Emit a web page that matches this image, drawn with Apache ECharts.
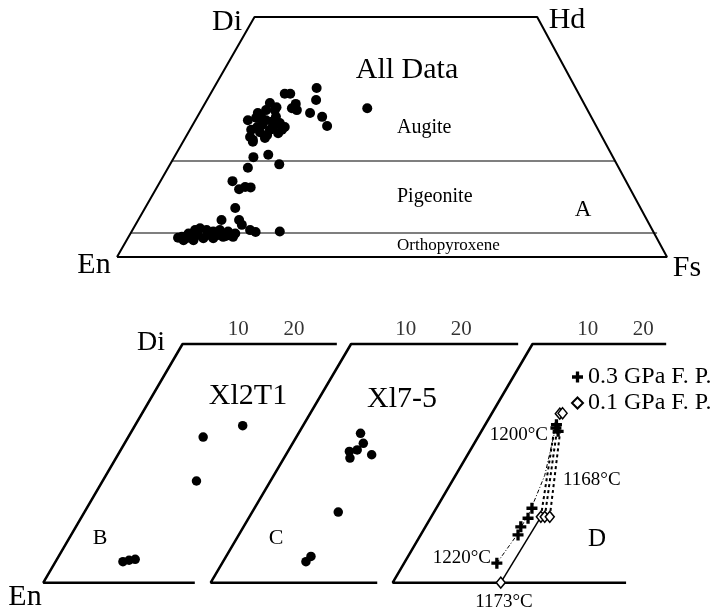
<!DOCTYPE html>
<html>
<head>
<meta charset="utf-8">
<script src="https://cdn.jsdelivr.net/npm/echarts@6/dist/echarts.min.js"></script>
<style>html,body{margin:0;padding:0;background:#fff}#c{width:718px;height:612px}</style>
</head>
<body>
<div id="c"></div>
<script>
// Coordinates: [x along En–Fs base (0–100 scale), Wo (0–50)]
const topFrame = [[0,0],[25,50],[76.4,50],[100,0],[0,0]];
const augiteBoundary = [[10,20],[90.6,20]];
const opxBoundary = [[2.5,5],[98.2,5]];
const allData = [
  [30.5,34.0],[31.5,34.0],[32.5,31.9],[31.8,31.0],[32.7,30.6],[27.8,32.1],[28.7,30.6],[27.1,30.6],
  [25.6,30.0],[23.8,28.5],[25.3,29.0],[27.1,28.5],[28.9,29.2],[29.6,27.9],[30.0,26.5],[28.4,27.1],
  [25.5,27.1],[26.0,26.0],[24.2,25.0],[24.7,24.4],[27.3,25.4],[24.4,26.5],[26.4,27.5],[27.8,26.5],
  [29.3,25.8],[26.9,24.8],[30.5,27.1],[24.7,24.0],[26.2,29.2],[28.2,28.2],[29.0,31.2],
  [36.3,35.2],[36.2,32.7],[35.1,30.0],[37.3,29.2],[38.2,27.3],[45.5,31.0],
  [24.8,20.8],[27.5,21.3],[23.8,18.6],[29.5,19.3],[21.0,15.8],[22.2,14.1],[23.3,14.6],[24.3,14.5],
  [21.5,10.2],[22.2,7.7],[19.0,7.7],[24.2,5.6],[25.2,5.2],[29.6,5.3],
  [11.8,4.2],[13.0,4.9],[14.2,5.6],[15.1,6.0],[16.3,5.6],[17.5,5.3],[18.7,5.6],[20.2,5.3],[21.5,4.9],
  [12.1,3.5],[13.9,3.5],[15.7,3.9],[17.5,3.9],[19.3,4.2],[21.1,4.2],[22.7,6.7],[12.9,4.0],[14.7,4.6],
  [16.5,4.6],[18.4,4.6],[19.8,4.4],[11.1,4.0]
];
const frameB = [[27.2,0],[0,0],[25,50],[52.7,50]];
const frameC = [[29.9,0],[0,0],[25.2,50],[55.2,50]];
const frameD = [[41.9,0],[0,0],[25.1,50],[49.1,50]];
const ptsB = [[35.8,32.9],[28.7,30.5],[27.5,21.3],[14.3,4.4],[16.5,4.9],[15.4,4.7]];
const ptsC = [[26.9,31.3],[27.4,29.2],[26.3,27.8],[24.9,27.5],[25.0,26.1],[28.9,26.8],[22.9,14.8],[18.0,5.5],[17.1,4.4]];
const fp03 = [[29.4,33.1],[29.3,32.4],[29.7,31.7],[25.0,15.6],[24.3,13.5],[23.0,11.7],[22.5,10.0],[18.7,4.1]];
const fp01 = [[30.0,35.4],[30.5,35.5],[26.6,13.8],[27.3,13.8],[28.2,13.8],[19.4,0]];
const path03 = [[18.7,4.1],[22.0,9.5],[24.6,14.8],[27.3,22.5],[29.1,31.7]];
const path01solid = [[19.4,0],[26.6,13.8]];
const ties01 = [
  [[26.6,13.8],[29.0,32.0]],
  [[27.3,13.8],[29.5,32.0]],
  [[28.2,13.8],[30.1,32.0]]
];
const tickValues = [10,20];
const tickLabels = ['10','20'];

const SERIF = '"Liberation Serif","Times New Roman",serif';
const chart = echarts.init(document.getElementById('c'), null, {renderer:'canvas'});

const pxX = 5.57;
const grids = [
  {left:117, top:17, width:550, height:240},
  {left:43.3, top:344, width:55*pxX, height:238.7},
  {left:210.7, top:344, width:55*pxX, height:238.7},
  {left:392.7, top:344, width:55*pxX, height:238.7}
];
const xAxes = grids.map((g,i)=>({type:'value', gridIndex:i, min:0, max: i===0?100:55, show:false}));
const yAxes = grids.map((g,i)=>({type:'value', gridIndex:i, min:0, max:50, show:false}));

function line(data, gi, width, type){
  return {type:'line', xAxisIndex:gi, yAxisIndex:gi, data:data, showSymbol:false, symbol:'none',
    lineStyle:{color:'#000', width:width, type:type||'solid'}, silent:true, z:2, clip:false};
}
function dots(data, gi, size){
  return {type:'scatter', xAxisIndex:gi, yAxisIndex:gi, data:data, symbol:'circle', symbolSize:size,
    itemStyle:{color:'#000', opacity:1}, z:5, clip:false};
}
function ticks(gi){
  return {type:'scatter', xAxisIndex:gi, yAxisIndex:gi, symbolSize:0,
    data: tickValues.map(v=>[25+v,50]),
    label:{show:true, position:'top', distance:4, color:'#000', fontSize:21, fontFamily:SERIF,
      formatter:p=>tickLabels[p.dataIndex]}, z:5, clip:false};
}
const plusPath = 'path://M3.5,0h3v3.5h3.5v3h-3.5v3.5h-3v-3.5h-3.5v-3h3.5z';

const series = [
  line(topFrame,0,2), line(augiteBoundary,0,1.2), line(opxBoundary,0,1.2),
  dots(allData,0,10),
  line(frameB,1,2.5), dots(ptsB,1,9.5), ticks(1),
  line(frameC,2,2.5), dots(ptsC,2,9.5), ticks(2),
  line(frameD,3,2.5), ticks(3),
  line(path01solid,3,1.5),
  line(path03,3,1,[4,2,1,2]),
  ...ties01.map(t=>line(t,3,2,[3,3])),
  {type:'scatter', name:'0.3 GPa F. P.', xAxisIndex:3, yAxisIndex:3, data:fp03, symbol:plusPath, symbolSize:11,
    itemStyle:{color:'#000', opacity:1}, z:6, clip:false},
  {type:'scatter', name:'0.1 GPa F. P.', xAxisIndex:3, yAxisIndex:3, data:fp01, symbol:'diamond', symbolSize:[9,11],
    itemStyle:{color:'#fff', borderColor:'#000', borderWidth:1.5, opacity:1}, z:6, clip:false}
];

function txt(t, x, y, size, align){
  return {type:'text', x:x, y:y, silent:true, z:10,
    style:{text:t, fill:'#000', font: size+'px '+SERIF, align:align||'center', verticalAlign:'middle'}};
}
const texts = [
  txt('Di',227,22,30), txt('Hd',567,20,30), txt('En',94,265,30), txt('Fs',687,268,30),
  txt('All Data',407,70,30),
  txt('Augite',397,128,20,'left'), txt('Pigeonite',397,197,20,'left'), txt('Orthopyroxene',397,246,17,'left'),
  txt('A',583,210,23),
  txt('Di',151,343,28), txt('En',25,597,30),
  txt('Xl2T1',248,396,30), txt('Xl7-5',402,399,30),
  txt('B',100,538,22), txt('C',276,538,22), txt('D',597,539,25),
  txt('1200°C',548,435,19,'right'), txt('1168°C',563,480,19,'left'),
  txt('1220°C',491,558,19,'right'), txt('1173°C',504,602,19)
];

chart.setOption({
  animation:false,
  backgroundColor:'#fff',
  grid: grids,
  xAxis: xAxes,
  yAxis: yAxes,
  legend: {
    orient:'vertical', left:566, top:360, itemGap:2, itemWidth:11, itemHeight:11,
    textStyle:{fontSize:24, fontFamily:SERIF, color:'#000'},
    data:[{name:'0.3 GPa F. P.', icon:plusPath}, {name:'0.1 GPa F. P.', icon:'diamond'}],
    selectedMode:false
  },
  series: series,
  graphic: texts
});
</script>
</body>
</html>
